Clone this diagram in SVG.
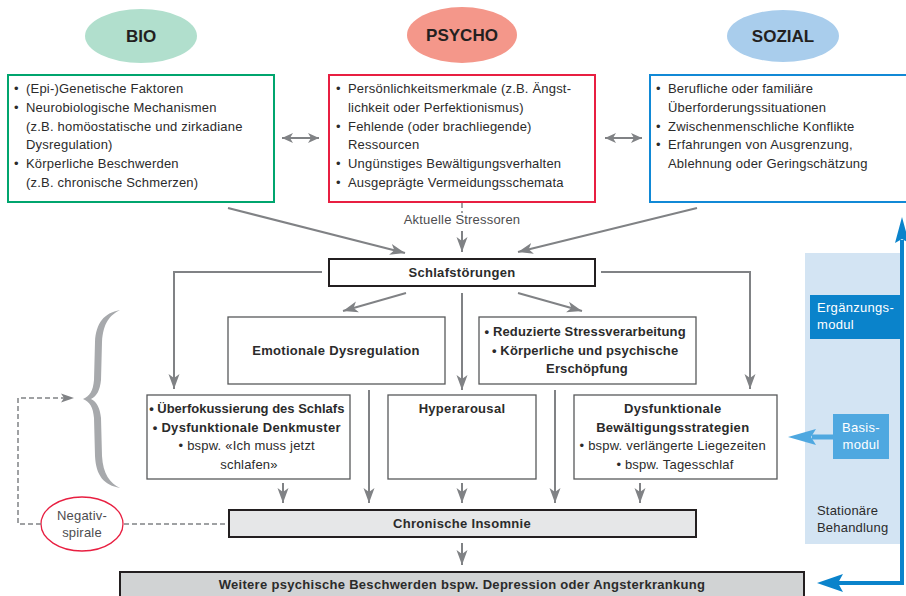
<svg xmlns="http://www.w3.org/2000/svg" width="906" height="596" viewBox="0 0 906 596">
<defs>
<style>
text{font-family:"Liberation Sans",Arial,sans-serif;fill:#2b2b2b}
.t{font-size:13px;letter-spacing:0.2px}
.b{font-size:13px;font-weight:bold;letter-spacing:0.3px}
.h{font-size:17px;font-weight:bold;text-anchor:middle;fill:#231f20}
.c{text-anchor:middle}
.w{fill:#ffffff;font-size:13px;letter-spacing:0.3px}
.box{fill:#fff;stroke:#58595b;stroke-width:1.3}
.kbox{stroke:#231f20;stroke-width:2}
.ln{fill:none;stroke:#808285;stroke-width:2}
.dl{fill:none;stroke:#808285;stroke-width:1.5;stroke-dasharray:5 3}
</style>
<marker id="ah" markerUnits="userSpaceOnUse" markerWidth="16" markerHeight="12" viewBox="-15 -6 16 12" refX="0" refY="0" orient="auto">
<path d="M0,0 L-15,-5.5 L-11,0 L-15,5.5 Z" fill="#808285"/>
</marker>
<marker id="ahs" markerUnits="userSpaceOnUse" markerWidth="12" markerHeight="12" viewBox="-11 -6 12 12" refX="0" refY="0" orient="auto-start-reverse">
<path d="M0,0 L-11,-5 L-8,0 L-11,5 Z" fill="#808285"/>
</marker>
</defs>

<!-- Right panel -->
<g id="stationaer">
<rect x="805" y="253" width="96" height="291" fill="#d3e4f3"/>
<text x="817" y="515" class="t">Stationäre</text>
<text x="817" y="532" class="t">Behandlung</text>
</g>
<g id="ergaenzung">
<rect x="810" y="295" width="90" height="44" fill="#0a83cb"/>
<text x="817" y="312" class="w">Ergänzungs-</text>
<text x="817" y="329" class="w">modul</text>
</g>
<g id="basis">
<rect x="833" y="414" width="56" height="45" fill="#4fa8e0"/>
<text x="861" y="432" class="w" text-anchor="middle">Basis-</text>
<text x="861" y="449" class="w" text-anchor="middle">modul</text>
</g>

<!-- Top ellipses -->
<g id="bio-label"><ellipse cx="141" cy="36" rx="56" ry="27" fill="#b1dfcd"/><text x="141" y="42" class="h">BIO</text></g>
<g id="psycho-label"><ellipse cx="462" cy="35" rx="55" ry="28" fill="#f4978a"/><text x="462" y="41" class="h">PSYCHO</text></g>
<g id="sozial-label"><ellipse cx="783" cy="36" rx="56" ry="26" fill="#a9cdec"/><text x="783" y="42" class="h">SOZIAL</text></g>

<!-- Top boxes -->
<g id="bio">
<rect x="8" y="75" width="266" height="127" fill="#fff" stroke="#00a56e" stroke-width="2"/>
<text class="t"><tspan x="14" y="93">•</tspan><tspan x="26" y="93">(Epi-)Genetische Faktoren</tspan>
<tspan x="14" y="112">•</tspan><tspan x="26" y="112">Neurobiologische Mechanismen</tspan>
<tspan x="26" y="131">(z.B. homöostatische und zirkadiane</tspan>
<tspan x="26" y="149">Dysregulation)</tspan>
<tspan x="14" y="168">•</tspan><tspan x="26" y="168">Körperliche Beschwerden</tspan>
<tspan x="26" y="187">(z.B. chronische Schmerzen)</tspan></text>
</g>
<g id="psycho">
<rect x="329" y="75" width="266" height="127" fill="#fff" stroke="#e81f41" stroke-width="2"/>
<text class="t"><tspan x="336" y="93">•</tspan><tspan x="348" y="93">Persönlichkeitsmerkmale (z.B. Ängst-</tspan>
<tspan x="348" y="112">lichkeit oder Perfektionismus)</tspan>
<tspan x="336" y="131">•</tspan><tspan x="348" y="131">Fehlende (oder brachliegende)</tspan>
<tspan x="348" y="149">Ressourcen</tspan>
<tspan x="336" y="168">•</tspan><tspan x="348" y="168">Ungünstiges Bewältigungsverhalten</tspan>
<tspan x="336" y="187">•</tspan><tspan x="348" y="187">Ausgeprägte Vermeidungsschemata</tspan></text>
</g>
<g id="sozial">
<rect x="650" y="75" width="258" height="127" fill="#fff" stroke="#1189d6" stroke-width="2"/>
<text class="t"><tspan x="656" y="93">•</tspan><tspan x="668" y="93">Berufliche oder familiäre</tspan>
<tspan x="668" y="112">Überforderungssituationen</tspan>
<tspan x="656" y="131">•</tspan><tspan x="668" y="131">Zwischenmenschliche Konflikte</tspan>
<tspan x="656" y="149">•</tspan><tspan x="668" y="149">Erfahrungen von Ausgrenzung,</tspan>
<tspan x="668" y="168">Ablehnung oder Geringschätzung</tspan></text>
</g>

<g id="stressoren"><text x="462" y="224" class="t c" style="fill:#4d4d4f">Aktuelle Stressoren</text></g>

<g id="schlafstoerungen">
<rect x="329" y="259" width="266" height="27" fill="#fff" class="kbox"/>
<text x="462" y="277" class="b c">Schlafstörungen</text>
</g>
<g id="emotional">
<rect x="228" y="317" width="217" height="67" class="box"/>
<text x="336" y="355" class="b c">Emotionale Dysregulation</text>
</g>
<g id="stress">
<rect x="479" y="317" width="217" height="67" class="box"/>
<text class="b c" style="letter-spacing:0.15px"><tspan x="587" y="336">• Reduzierte Stressverarbeitung</tspan>
<tspan x="587" y="355">• Körperliche und psychische</tspan>
<tspan x="587" y="373">Erschöpfung</tspan></text>
</g>
<g id="ueberfokus">
<rect x="147" y="395" width="203" height="84" class="box"/>
<text class="c"><tspan x="249" y="413" class="b" style="letter-spacing:0">• Überfokussierung des Schlafs</tspan>
<tspan x="249" y="432" class="b">• Dysfunktionale Denkmuster</tspan>
<tspan x="249" y="450" class="t">• bspw. «Ich muss jetzt</tspan>
<tspan x="249" y="469" class="t">schlafen»</tspan></text>
</g>
<g id="hyperarousal">
<rect x="388" y="395" width="148" height="84" class="box"/>
<text x="462" y="413" class="b c">Hyperarousal</text>
</g>
<g id="bewaeltigung">
<rect x="574" y="395" width="203" height="84" class="box"/>
<text class="c"><tspan x="675" y="413" class="b">Dysfunktionale</tspan>
<tspan x="675" y="432" class="b">Bewältigungsstrategien</tspan>
<tspan x="675" y="450" class="t">• bspw. verlängerte Liegezeiten</tspan>
<tspan x="675" y="469" class="t">• bspw. Tagesschlaf</tspan></text>
</g>
<g id="insomnie">
<rect x="229" y="510" width="467" height="27" fill="#e6e7e8" class="kbox"/>
<text x="462" y="528" class="b c">Chronische Insomnie</text>
</g>
<g id="weitere">
<rect x="120" y="572" width="684" height="30" fill="#d1d3d4" class="kbox"/>
<text x="462" y="589" class="b c">Weitere psychische Beschwerden bspw. Depression oder Angsterkrankung</text>
</g>
<g id="negativspirale">
<ellipse cx="82" cy="524" rx="41" ry="27" fill="#fff" stroke="#e81f41" stroke-width="1.3"/>
<text x="82" y="520" class="t c" style="fill:#4d4d4f">Negativ-</text>
<text x="82" y="537" class="t c" style="fill:#4d4d4f">spirale</text>
</g>
<g id="klammer">
<path d="M120,310 C104,313 96,323 95,342 L94,380 C93,391 90,396 83,399 C90,402 93,407 94,418 L95,456 C96,476 104,485 120,488 C110,483 103,474 102,456 L101,418 C100,408 97,402 91,399 C97,396 100,390 101,380 L102,342 C103,323 110,315 120,310 Z" fill="#a7a9ac"/>
</g>

<g id="connectors">
<line x1="282" y1="138" x2="319" y2="138" stroke="#808285" stroke-width="2" marker-start="url(#ahs)" marker-end="url(#ahs)"/>
<line x1="605" y1="138" x2="642" y2="138" stroke="#808285" stroke-width="2" marker-start="url(#ahs)" marker-end="url(#ahs)"/>
<line x1="462" y1="203" x2="462" y2="213" class="dl"/>
<line x1="462" y1="231" x2="462" y2="252" class="ln" marker-end="url(#ah)"/>
<line x1="228" y1="208" x2="405" y2="253" class="ln" marker-end="url(#ah)"/>
<line x1="697" y1="208" x2="518" y2="252" class="ln" marker-end="url(#ah)"/>
<path d="M322,272 H174 V389" class="ln" marker-end="url(#ah)"/>
<path d="M601,272 H750 V389" class="ln" marker-end="url(#ah)"/>
<line x1="406" y1="293" x2="343" y2="311" class="ln" marker-end="url(#ah)"/>
<line x1="462" y1="293" x2="462" y2="390" class="ln" marker-end="url(#ah)"/>
<line x1="518" y1="293" x2="582" y2="311" class="ln" marker-end="url(#ah)"/>
<line x1="369" y1="390" x2="369" y2="503" class="ln" marker-end="url(#ah)"/>
<line x1="555" y1="390" x2="555" y2="503" class="ln" marker-end="url(#ah)"/>
<line x1="283" y1="483" x2="283" y2="503" class="ln" marker-end="url(#ah)"/>
<line x1="462" y1="483" x2="462" y2="503" class="ln" marker-end="url(#ah)"/>
<line x1="640" y1="483" x2="640" y2="503" class="ln" marker-end="url(#ah)"/>
<line x1="462" y1="543" x2="462" y2="565" class="ln" marker-end="url(#ah)"/>
<line x1="225" y1="524" x2="123" y2="524" class="dl"/>
<path d="M41,524 H18 V398 H66" class="dl"/>
<path d="M74,398 L61,393.5 L64,398 L61,402.5 Z" fill="#808285"/>
<path d="M902,240 V583 H838" fill="none" stroke="#0a83cb" stroke-width="4"/>
<path d="M902,217 L909,243 L902,239 L895,243 Z" fill="#0a83cb"/>
<path d="M817,583 L843,574 L838,583 L843,592 Z" fill="#0a83cb"/>
<line x1="833" y1="437" x2="812" y2="437" stroke="#4fa8e0" stroke-width="5"/>
<path d="M788,437 L816,429 L811,437 L816,445 Z" fill="#4fa8e0"/>
</g>
</svg>
